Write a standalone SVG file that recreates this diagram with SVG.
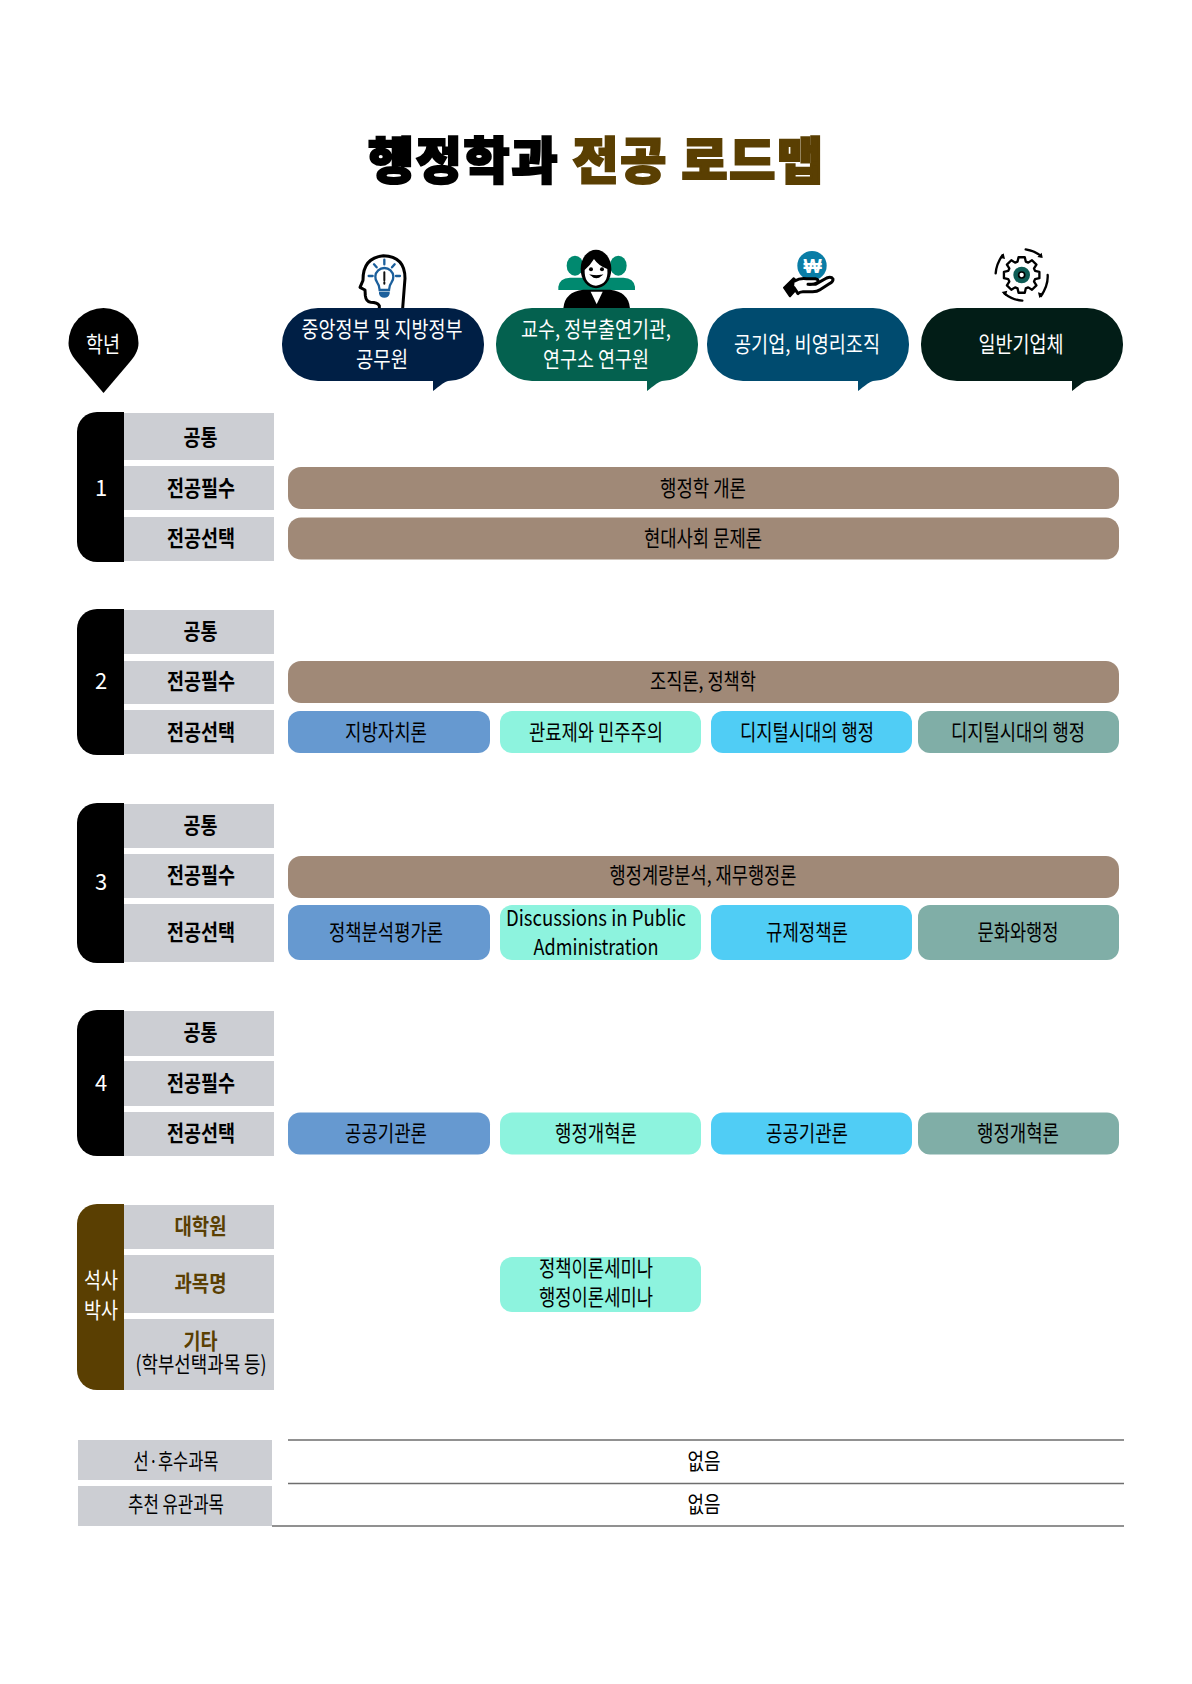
<svg xmlns="http://www.w3.org/2000/svg" width="1192" height="1684" viewBox="0 0 1192 1684">
<style>
text{font-family:"Noto Sans CJK KR","Noto Sans",sans-serif;text-anchor:middle;dominant-baseline:central;font-size:22px;fill:#000;transform:translateY(-2px)}
.title{font-size:50px;font-weight:900;stroke-width:2.2px;stroke:#000;transform:translateY(-3px)}
.gold{fill:#5a3f02;stroke:#5a3f02}
.w{fill:#fff}
.b{font-weight:700}
.g{fill:#5a3f02}
.gray{fill:#ccced3}
.bar{fill:#a08977}
.c1{fill:#6699d0}.c2{fill:#8df3de}.c3{fill:#50cdf5}.c4{fill:#80aea7}
.rule{stroke:#6e6e6e;stroke-width:1.6;fill:none}
.ln{fill:none;stroke:#000;stroke-linecap:round;stroke-linejoin:round}
</style>
<defs>
<path id="bub" d="M36,0H166A36,36 0 0 1 202,36V37A36,36 0 0 1 166,73C160,75 158,78 151,83V73H36A36,36 0 0 1 0,37V36A36,36 0 0 1 36,0Z"/>
</defs>
<g id="title"><text class="title" x="595.5" y="160" textLength="455">행정학과 <tspan class="gold">전공 로드맵</tspan></text></g>

<g id="grade-pin"><path d="M103.5,393L78,363C73,357 68.500,351 68.500,343A35,35 0 0 1 138.500,343C138.500,351 134,357 129,363Z"/><text class="w" x="103" y="344" textLength="34" lengthAdjust="spacingAndGlyphs">학년</text></g>

<g id="icon-gov" transform="translate(350,245) scale(.3333)">
<path class="ln" stroke-width="9" d="M88,190V182Q82,172 62,172Q48,170 46,152L45,135L30,127L39,106Q38,38 100,32Q165,34 165,100L158,190"/>
<g fill="none" stroke="#1b5f9c" stroke-width="7" stroke-linecap="round"><path d="M89,135Q88,120 82,113A27,27 0 1 1 124,113Q118,120 117,135Z"/><path d="M103,44V58M72,58L80,67M134,58L126,67M56,93H68M138,93H150"/></g>
<path d="M87,140H119V146Q116,158 103,158Q90,158 87,146Z" fill="#1b5f9c"/><path d="M103,82V106M103,112V116" stroke="#111" stroke-width="6" stroke-linecap="round"/>
</g>
<g id="icon-prof" transform="translate(550,245) scale(.3333)">
<g fill="#00896f"><ellipse cx="75" cy="62" rx="25" ry="30"/><ellipse cx="205" cy="62" rx="25" ry="30"/><path d="M25,135V125Q28,100 60,98H220Q252,100 255,125V135Z"/></g>
<path d="M40,190Q44,140 100,134H180Q236,140 240,190Z"/><path d="M122,140H158L140,178Z" fill="#fff"/>
<ellipse cx="138" cy="72" rx="46" ry="58"/>
<path d="M104,75Q120,62 132,42Q145,62 172,72Q176,118 138,122Q102,118 104,75Z" fill="#fff"/>
<circle cx="123" cy="73" r="6"/><circle cx="156" cy="73" r="6"/><path d="M124,91Q139,105 154,91Q139,94 124,91Z" stroke="#000" stroke-width="4"/>
</g>
<g id="icon-corp" transform="translate(778,245) scale(.3333)">
<circle cx="102" cy="62" r="44" fill="#0a7da6"/>
<text x="104" y="66" class="w b" style="font-size:58px;font-family:'Liberation Sans',sans-serif;font-weight:700;transform:none">₩</text>
<path d="M18,128L47,100L68,118L36,154Z" stroke="#000" stroke-width="6" stroke-linejoin="round"/>
<path class="ln" stroke-width="9" style="fill:#fff" d="M50,108Q66,98 86,101H112Q124,103 118,113Q110,119 90,118H112L146,99Q160,94 165,102Q166,110 156,115L126,134Q116,141 100,140H75Q65,140 60,146L48,128"/>
</g>
<g id="icon-biz" transform="translate(985,240) scale(.3333)">
<polygon class="ln" stroke-width="7" transform="translate(110,105)" points="40.200,-12.300 53.200,-9.400 53.200,9.400 40.200,12.300 37.100,19.700 44.300,31 31,44.300 19.700,37.100 12.300,40.200 9.400,53.200 -9.400,53.200 -12.300,40.200 -19.700,37.100 -31,44.300 -44.300,31 -37.100,19.700 -40.200,12.300 -53.200,9.400 -53.200,-9.400 -40.200,-12.300 -37.100,-19.700 -44.300,-31 -31,-44.300 -19.700,-37.100 -12.300,-40.200 -9.400,-53.200 9.400,-53.200 12.300,-40.200 19.700,-37.100 31,-44.300 44.300,-31 37.100,-19.700"/>
<circle cx="110" cy="105" r="25" fill="#0d5c55"/><circle cx="110" cy="105" r="9" fill="#fff" stroke="#000" stroke-width="5"/>
<g class="ln" stroke-width="7"><path d="M122,28Q150,33 168,48M188,105Q190,135 168,168M112,182Q82,180 58,160M32,100Q34,72 52,46"/></g>
<path d="M173,54L157,51L170,38ZM163,174L159,157L176,162ZM50,156L67,152L62,168ZM56,40L60,57L44,53Z"/>
</g>

<g id="bubble-1"><use href="#bub" transform="translate(282,308)" fill="#001f45"/><text class="w" x="382" y="329" textLength="161" lengthAdjust="spacingAndGlyphs">중앙정부 및 지방정부</text><text class="w" x="382" y="359" textLength="52" lengthAdjust="spacingAndGlyphs">공무원</text></g>
<g id="bubble-2"><use href="#bub" transform="translate(496,308)" fill="#04614f"/><text class="w" x="596" y="329" textLength="150" lengthAdjust="spacingAndGlyphs">교수, 정부출연기관,</text><text class="w" x="596" y="359" textLength="106" lengthAdjust="spacingAndGlyphs">연구소 연구원</text></g>
<g id="bubble-3"><use href="#bub" transform="translate(707,308)" fill="#004b6f"/><text class="w" x="807" y="344" textLength="146" lengthAdjust="spacingAndGlyphs">공기업, 비영리조직</text></g>
<g id="bubble-4"><use href="#bub" transform="translate(921,308)" fill="#021d17"/><text class="w" x="1021" y="344" textLength="85" lengthAdjust="spacingAndGlyphs">일반기업체</text></g>

<g id="year-1">
<path d="M20,0H47V150H20A20,20 0 0 1 0,130V20A20,20 0 0 1 20,0Z" transform="translate(77,412)"/>
<text class="w" x="101" y="488">1</text>
<rect class="gray" x="124" y="413" width="150" height="47"/><rect class="gray" x="124" y="466" width="150" height="44"/><rect class="gray" x="124" y="517" width="150" height="44"/>
<text class="b" x="200.500" y="437" textLength="34" lengthAdjust="spacingAndGlyphs">공통</text><text class="b" x="201" y="488" textLength="68" lengthAdjust="spacingAndGlyphs">전공필수</text><text class="b" x="201" y="538" textLength="68" lengthAdjust="spacingAndGlyphs">전공선택</text>
<rect class="bar" x="288" y="467" width="831" height="42" rx="13"/><text x="703" y="488" textLength="86" lengthAdjust="spacingAndGlyphs">행정학 개론</text>
<rect class="bar" x="288" y="517.500" width="831" height="42" rx="13"/><text x="703" y="538" textLength="118" lengthAdjust="spacingAndGlyphs">현대사회 문제론</text>
</g>

<g id="year-2">
<path d="M20,0H47V146H20A20,20 0 0 1 0,126V20A20,20 0 0 1 20,0Z" transform="translate(77,609)"/>
<text class="w" x="101" y="681">2</text>
<rect class="gray" x="124" y="610" width="150" height="44"/><rect class="gray" x="124" y="661" width="150" height="43"/><rect class="gray" x="124" y="710" width="150" height="44"/>
<text class="b" x="200.500" y="631" textLength="34" lengthAdjust="spacingAndGlyphs">공통</text><text class="b" x="201" y="681" textLength="68" lengthAdjust="spacingAndGlyphs">전공필수</text><text class="b" x="201" y="732" textLength="68" lengthAdjust="spacingAndGlyphs">전공선택</text>
<rect class="bar" x="288" y="661" width="831" height="42" rx="13"/><text x="703" y="681" textLength="106" lengthAdjust="spacingAndGlyphs">조직론, 정책학</text>
<rect class="c1" x="288" y="711" width="202" height="42" rx="12"/><text x="386" y="732" textLength="82" lengthAdjust="spacingAndGlyphs">지방자치론</text>
<rect class="c2" x="500" y="711" width="201" height="42" rx="12"/><text x="596" y="732" textLength="134" lengthAdjust="spacingAndGlyphs">관료제와 민주주의</text>
<rect class="c3" x="711" y="711" width="201" height="42" rx="12"/><text x="807" y="732" textLength="134" lengthAdjust="spacingAndGlyphs">디지털시대의 행정</text>
<rect class="c4" x="918" y="711" width="201" height="42" rx="12"/><text x="1018" y="732" textLength="134" lengthAdjust="spacingAndGlyphs">디지털시대의 행정</text>
</g>

<g id="year-3">
<path d="M20,0H47V160H20A20,20 0 0 1 0,140V20A20,20 0 0 1 20,0Z" transform="translate(77,803)"/>
<text class="w" x="101" y="882">3</text>
<rect class="gray" x="124" y="804" width="150" height="44"/><rect class="gray" x="124" y="854" width="150" height="44"/><rect class="gray" x="124" y="904" width="150" height="58"/>
<text class="b" x="200.500" y="825" textLength="34" lengthAdjust="spacingAndGlyphs">공통</text><text class="b" x="201" y="875" textLength="68" lengthAdjust="spacingAndGlyphs">전공필수</text><text class="b" x="201" y="932" textLength="68" lengthAdjust="spacingAndGlyphs">전공선택</text>
<rect class="bar" x="288" y="856" width="831" height="42" rx="13"/><text x="703" y="875" textLength="187" lengthAdjust="spacingAndGlyphs">행정계량분석, 재무행정론</text>
<rect class="c1" x="288" y="905" width="202" height="55" rx="12"/><text x="386" y="932" textLength="114" lengthAdjust="spacingAndGlyphs">정책분석평가론</text>
<rect class="c2" x="500" y="905" width="201" height="55" rx="12"/><text x="596" y="918" textLength="180" lengthAdjust="spacingAndGlyphs">Discussions in Public</text><text x="596" y="947" textLength="125" lengthAdjust="spacingAndGlyphs">Administration</text>
<rect class="c3" x="711" y="905" width="201" height="55" rx="12"/><text x="807" y="932" textLength="82" lengthAdjust="spacingAndGlyphs">규제정책론</text>
<rect class="c4" x="918" y="905" width="201" height="55" rx="12"/><text x="1018" y="932" textLength="81" lengthAdjust="spacingAndGlyphs">문화와행정</text>
</g>

<g id="year-4">
<path d="M20,0H47V146H20A20,20 0 0 1 0,126V20A20,20 0 0 1 20,0Z" transform="translate(77,1010)"/>
<text class="w" x="101" y="1083">4</text>
<rect class="gray" x="124" y="1011" width="150" height="45"/><rect class="gray" x="124" y="1061" width="150" height="45"/><rect class="gray" x="124" y="1112" width="150" height="44"/>
<text class="b" x="200.500" y="1032" textLength="34" lengthAdjust="spacingAndGlyphs">공통</text><text class="b" x="201" y="1083" textLength="68" lengthAdjust="spacingAndGlyphs">전공필수</text><text class="b" x="201" y="1133" textLength="68" lengthAdjust="spacingAndGlyphs">전공선택</text>
<rect class="c1" x="288" y="1112.500" width="202" height="42" rx="12"/><text x="386" y="1133" textLength="82" lengthAdjust="spacingAndGlyphs">공공기관론</text>
<rect class="c2" x="500" y="1112.500" width="201" height="42" rx="12"/><text x="596" y="1133" textLength="82" lengthAdjust="spacingAndGlyphs">행정개혁론</text>
<rect class="c3" x="711" y="1112.500" width="201" height="42" rx="12"/><text x="807" y="1133" textLength="82" lengthAdjust="spacingAndGlyphs">공공기관론</text>
<rect class="c4" x="918" y="1112.500" width="201" height="42" rx="12"/><text x="1018" y="1133" textLength="82" lengthAdjust="spacingAndGlyphs">행정개혁론</text>
</g>

<g id="graduate">
<path class="g" d="M20,0H47V186H20A20,20 0 0 1 0,166V20A20,20 0 0 1 20,0Z" transform="translate(77,1204)"/>
<text class="w" x="101" y="1280" textLength="34" lengthAdjust="spacingAndGlyphs">석사</text><text class="w" x="101" y="1310" textLength="34" lengthAdjust="spacingAndGlyphs">박사</text>
<rect class="gray" x="124" y="1205" width="150" height="44"/><rect class="gray" x="124" y="1255" width="150" height="58"/><rect class="gray" x="124" y="1319" width="150" height="71"/>
<text class="b g" x="200.500" y="1226" textLength="52" lengthAdjust="spacingAndGlyphs">대학원</text><text class="b g" x="200.500" y="1283" textLength="52" lengthAdjust="spacingAndGlyphs">과목명</text><text class="b g" x="200.500" y="1341" textLength="34" lengthAdjust="spacingAndGlyphs">기타</text><text x="201" y="1364" textLength="131" lengthAdjust="spacingAndGlyphs">(학부선택과목 등)</text>
<rect class="c2" x="500" y="1257" width="201" height="55" rx="12"/><text x="596" y="1268" textLength="114" lengthAdjust="spacingAndGlyphs">정책이론세미나</text><text x="596" y="1297" textLength="114" lengthAdjust="spacingAndGlyphs">행정이론세미나</text>
</g>

<g id="footer">
<rect class="gray" x="78" y="1440" width="194" height="40"/><rect class="gray" x="78" y="1486" width="194" height="40"/>
<text x="176" y="1461" textLength="85" lengthAdjust="spacingAndGlyphs">선·후수과목</text><text x="176" y="1504" textLength="96" lengthAdjust="spacingAndGlyphs">추천 유관과목</text>
<path class="rule" d="M288,1440H1124M288,1483.500H1124M272,1526H1124"/>
<text x="704" y="1461" textLength="33" lengthAdjust="spacingAndGlyphs">없음</text><text x="704" y="1504" textLength="33" lengthAdjust="spacingAndGlyphs">없음</text>
</g>
</svg>
